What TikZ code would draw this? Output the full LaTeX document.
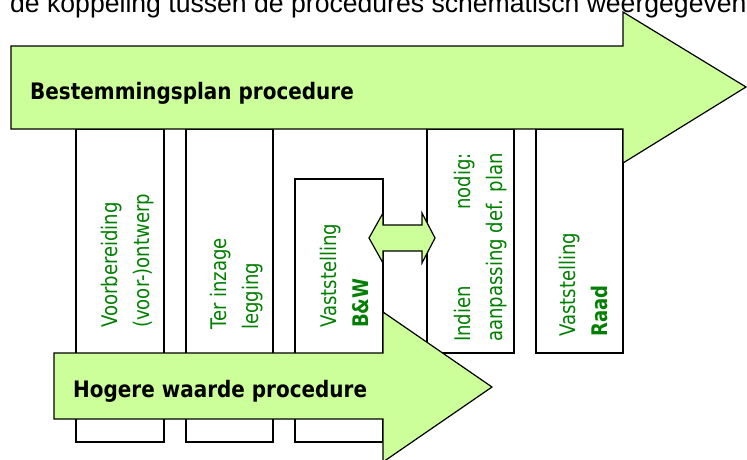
\documentclass[tikz,border=0pt]{standalone}
\usepackage{fontspec}
\setmainfont{DejaVu Sans}[FakeStretch=0.88]
\newfontfamily\labelfont{DejaVu Sans}[FakeStretch=0.84]
\newfontfamily\captionfont{Liberation Sans}
\usetikzlibrary{positioning}
\definecolor{procfill}{RGB}{204,255,153}
\definecolor{phasegreen}{RGB}{0,128,0}

\begin{document}
\begin{tikzpicture}[x=1pt,y=-1pt,
  phase/.style={draw,line width=1.1pt,fill=white},
  proc/.style={draw,line width=1.2pt,fill=procfill,line join=miter},
  phaselabel/.style={rotate=90,anchor=base west,inner sep=0pt,text=phasegreen,
    font=\labelfont\fontsize{21.5}{32}\selectfont},
  procname/.style={anchor=base west,inner sep=0pt,font=\fontsize{22.7}{26}\selectfont\bfseries}]
  \useasboundingbox (0,0) rectangle (747,459);
  \clip (0,0) rectangle (747,459);
  % caption line, cut off at the top
  \node[anchor=base west,inner sep=0pt,font=\captionfont\fontsize{26.6}{30}\selectfont] (caption) at (10,12)
    {de koppeling tussen de procedures schematisch weergegeven};
  % phase columns
  \foreach \l/\t/\r/\b in {76/129/164/442, 186/129/273/442, 295/179/383/442, 427/129/514/353, 536/129/623/353}
    \draw[phase] (\l,\t) rectangle (\r,\b);
  % main procedure arrow
  \draw[proc] (11,46) -- (623,46) -- (623,12) -- (746,87) -- (623,163) -- (623,129) -- (11,129) -- cycle;
  \node[procname] (plantitle) at (30,99) {Bestemmingsplan procedure};
  % coupling between B&W and adjustment
  \draw[proc] (369,238) -- (383,213) -- (383,225) -- (422,225) -- (422,213) -- (435,238)
    -- (422,263) -- (422,251) -- (383,251) -- (383,263) -- cycle;
  % hogere waarde arrow
  \draw[proc] (54,353) -- (383,353) -- (383,312) -- (492,387) -- (383,462) -- (383,419) -- (54,419) -- cycle;
  \node[procname] (hwtitle) at (73,397) {Hogere waarde procedure};
  % phase labels
  \node[phaselabel] (voorb) at (149,328) {\begin{tabular}[b]{@{}l@{}}Voorbereiding\\(voor-)ontwerp\end{tabular}};
  \node[phaselabel] (inzage) at (258,330) {\begin{tabular}[b]{@{}l@{}}Ter inzage\\legging\end{tabular}};
  \node[phaselabel] (vastbw) at (368,328) {\begin{tabular}[b]{@{}l@{}}Vaststelling\\\textbf{B\&W}\end{tabular}};
  \node[phaselabel] (aanpas) at (502,342) {\begin{tabular}[b]{@{}l@{}}Indien\hfill nodig:\\aanpassing def. plan\end{tabular}};
  \node[phaselabel] (vastraad) at (607,337) {\begin{tabular}[b]{@{}l@{}}Vaststelling\\\textbf{Raad}\end{tabular}};
\end{tikzpicture}
\end{document}
